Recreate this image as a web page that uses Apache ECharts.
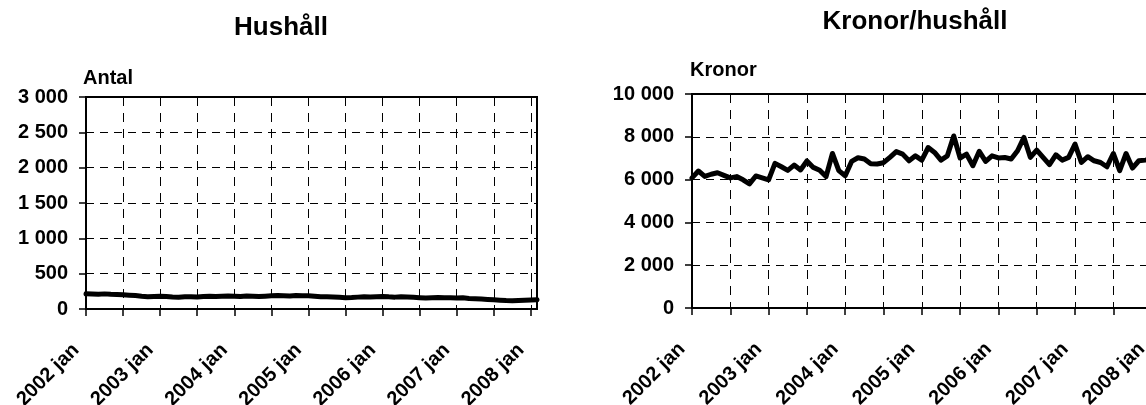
<!DOCTYPE html>
<html>
<head>
<meta charset="utf-8">
<script src="https://cdn.jsdelivr.net/npm/echarts@6/dist/echarts.min.js"></script>
<style>
html,body{margin:0;padding:0;background:#fff;overflow:hidden;}
#c{width:1146px;height:405px;}
</style>
</head>
<body>
<div id="c"></div>
<script>
// ---- Data ----
const years = [2002, 2003, 2004, 2005, 2006, 2007, 2008];
const monthNames = ['jan','feb','mar','apr','maj','jun','jul','aug','sep','okt','nov','dec'];
const lastYearMonths = 2; // 2008 jan, feb
const categories = [];
years.forEach((y, i) => {
  const n = (i === years.length - 1) ? lastYearMonths : 12;
  for (let m = 0; m < n; m++) categories.push(y + ' ' + monthNames[m]);
});

// Hushåll (Antal)
const hushall = [
  215, 212, 210, 214, 208, 205, 200, 196, 190, 180, 175, 178,
  180, 176, 170, 168, 172, 175, 170, 178, 182, 176, 180, 185,
  182, 178, 185, 180, 176, 182, 188, 190, 186, 183, 190, 188,
  186, 180, 175, 172, 170, 165, 160, 163, 168, 172, 170, 175,
  178, 172, 168, 175, 170, 165, 160, 155, 158, 162, 160, 158,
  155, 160, 150, 145, 140, 135, 130, 125, 120, 118, 122, 125,
  128, 132
];

// Kronor/hushåll (Kronor)
const kronor = [
  6080, 6400, 6150, 6250, 6320, 6200, 6080, 6140, 5990, 5800, 6170, 6080,
  5990, 6760, 6600, 6430, 6680, 6450, 6870, 6570, 6440, 6140, 7220, 6420,
  6180, 6850, 7020, 6960, 6740, 6730, 6790, 7040, 7310, 7190, 6880, 7110,
  6910, 7500, 7270, 6910, 7110, 8040, 7010, 7190, 6650, 7320, 6850, 7110,
  7010, 7030, 6960, 7350, 7970, 7040, 7380, 7040, 6700, 7160, 6910, 7040,
  7660, 6800, 7070, 6880, 6800, 6600, 7220, 6420, 7220, 6540, 6880, 6910,
  6950, 7000
];

const titles = ['Hushåll', 'Kronor/hushåll'];
const yNames = ['Antal', 'Kronor'];
const yMax = [3000, 10000];
const yStep = [500, 2000];

// ---- Chart ----
const FONT = "'Liberation Sans', Arial, sans-serif";
const chart = echarts.init(document.getElementById('c'), null, {renderer: 'canvas'});

function fmt(v) {
  return String(v).replace(/\B(?=(\d{3})+(?!\d))/g, ' ');
}

const grids = [
  {left: 86, top: 97, width: 451, height: 212},
  {left: 692, top: 94, width: 466, height: 214}
];

function xAxisFor(i) {
  return {
    type: 'category', gridIndex: i, data: categories, boundaryGap: false,
    axisLine: {show: true, lineStyle: {color: '#000', width: 2}},
    axisTick: {show: true, interval: 5, length: 7, lineStyle: {color: '#000', width: 1.5}},
    axisLabel: {interval: 11, rotate: 45, margin: 28, padding: [0, 14, 0, 0], color: '#000',
      fontFamily: FONT, fontWeight: 'bold', fontSize: 20},
    splitLine: {show: true, interval: 5, lineStyle: {color: '#000', width: 1, type: [9, 7]}}
  };
}
function yAxisFor(i) {
  return {
    type: 'value', gridIndex: i, min: 0, max: yMax[i], interval: yStep[i],
    axisLine: {show: true, lineStyle: {color: '#000', width: 2}},
    axisTick: {show: true, length: 7, lineStyle: {color: '#000', width: 1.5}},
    axisLabel: {margin: 18, color: '#000', fontFamily: FONT, fontWeight: 'bold', fontSize: 20,
      formatter: fmt},
    splitLine: {show: true, lineStyle: {color: '#000', width: 1, type: [8, 6]}}
  };
}

const option = {
  backgroundColor: '#fff',
  animation: false,
  grid: grids.map(g => Object.assign({show: true, borderColor: '#000', borderWidth: 2,
    backgroundColor: 'transparent', containLabel: false, outerBoundsMode: 'none'}, g)),
  xAxis: [xAxisFor(0), xAxisFor(1)],
  yAxis: [yAxisFor(0), yAxisFor(1)],
  series: [
    {type: 'line', xAxisIndex: 0, yAxisIndex: 0, data: hushall, symbol: 'none',
      lineStyle: {color: '#000', width: 5, join: 'round', cap: 'round'}},
    {type: 'line', xAxisIndex: 1, yAxisIndex: 1, data: kronor, symbol: 'none',
      lineStyle: {color: '#000', width: 5, join: 'round', cap: 'round'}}
  ],
  graphic: [
    {type: 'text', x: 281, y: 28, style: {text: titles[0], fill: '#000', font: 'bold 26px ' + FONT,
      textAlign: 'center', textVerticalAlign: 'middle'}},
    {type: 'text', x: 915, y: 22, style: {text: titles[1], fill: '#000', font: 'bold 26px ' + FONT,
      textAlign: 'center', textVerticalAlign: 'middle'}},
    {type: 'text', x: 83, y: 78, style: {text: yNames[0], fill: '#000', font: 'bold 20px ' + FONT,
      textAlign: 'left', textVerticalAlign: 'middle'}},
    {type: 'text', x: 690, y: 70, style: {text: yNames[1], fill: '#000', font: 'bold 20px ' + FONT,
      textAlign: 'left', textVerticalAlign: 'middle'}}
  ]
};
chart.setOption(option);
</script>
</body>
</html>
